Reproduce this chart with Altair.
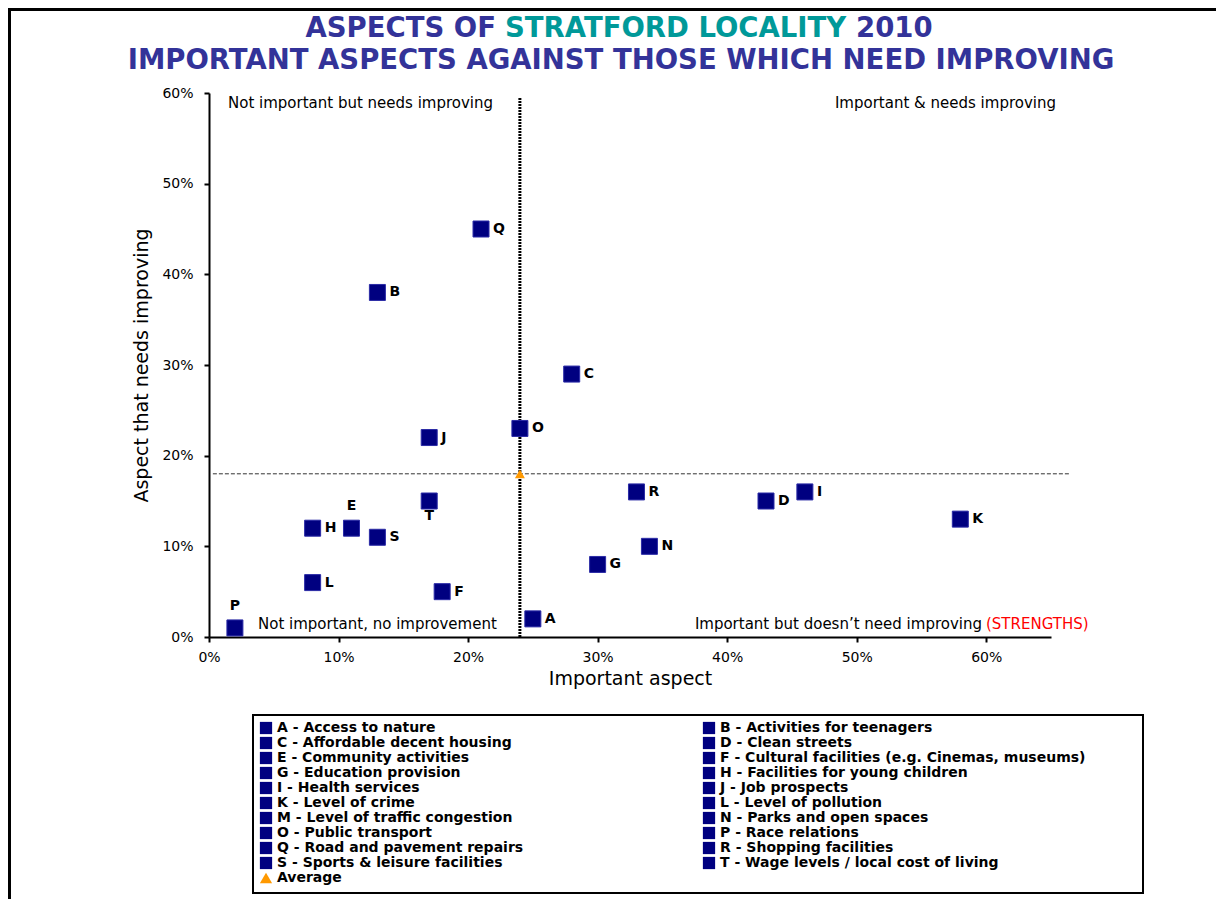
import altair as alt
import pandas as pd

# ---------------- data ----------------
legend_letters = ["A", "B", "C", "D", "E", "F", "G", "H", "I", "J",
                  "K", "L", "M", "N", "O", "P", "Q", "R", "S", "T"]
legend_names = [
    "Access to nature", "Activities for teenagers", "Affordable decent housing",
    "Clean streets", "Community activities",
    "Cultural facilities (e.g. Cinemas, museums)", "Education provision",
    "Facilities for young children", "Health services", "Job prospects",
    "Level of crime", "Level of pollution", "Level of traffic congestion",
    "Parks and open spaces", "Public transport", "Race relations",
    "Road and pavement repairs", "Shopping facilities",
    "Sports & leisure facilities", "Wage levels / local cost of living",
]

point_letters = ["A", "B", "C", "D", "E", "F", "G", "H", "I", "J",
                 "K", "L", "N", "O", "P", "Q", "R", "S", "T"]
important = [0.25, 0.13, 0.28, 0.43, 0.11, 0.18, 0.30, 0.08, 0.46, 0.17,
             0.58, 0.08, 0.34, 0.24, 0.02, 0.21, 0.33, 0.13, 0.17]
needs_improving = [0.02, 0.38, 0.29, 0.15, 0.12, 0.05, 0.08, 0.12, 0.16, 0.22,
                   0.13, 0.06, 0.10, 0.23, 0.01, 0.45, 0.16, 0.11, 0.15]

average_important = [0.24]
average_needs = [0.18]
avg_vline_y = [0.0, 0.595]
avg_hline_x = [0.003, 0.665]

labels_above = ["E", "P"]
labels_below = ["T"]

x_ticks = [0, 0.1, 0.2, 0.3, 0.4, 0.5, 0.6]
y_ticks = [0, 0.1, 0.2, 0.3, 0.4, 0.5, 0.6]

# ---------------- tables ----------------
entry_labels = [f"{l} - {n}" for l, n in zip(legend_letters, legend_names)]
name_of = dict(zip(legend_letters, entry_labels))
pts = pd.DataFrame({
    "letter": point_letters,
    "imp": important,
    "need": needs_improving,
    "entry": [name_of[l] for l in point_letters],
})
avg = pd.DataFrame({"imp": average_important, "need": average_needs,
                    "entry": ["Average"]})
vline = pd.DataFrame({"imp": average_important * 2, "need": avg_vline_y})
hline = pd.DataFrame({"imp": avg_hline_x, "need": average_needs * 2})
one = pd.DataFrame({"a": [0]})

NAVY = "#000080"
ORANGE = "#FF9900"
TITLE_BLUE = "#333399"
TEAL = "#009999"
FONT = "DejaVu Sans"

# legend lays out column by column: odd entries + Average left, even entries right
all_entries = entry_labels + ["Average"]
domain = all_entries[0::2] + all_entries[1::2]
domain = [e for e in domain if e != "Average"]
domain = domain[:10] + ["Average"] + domain[10:]
color_scale = alt.Scale(domain=domain,
                        range=[ORANGE if d == "Average" else NAVY for d in domain])
shape_scale = alt.Scale(domain=domain,
                        range=["triangle-up" if d == "Average" else "square" for d in domain])

xs = alt.X("imp:Q", title="Important aspect",
           scale=alt.Scale(domain=[0, 0.65], nice=False, zero=True),
           axis=alt.Axis(format=".0%", values=x_ticks, grid=False, labelFlush=False))
ys = alt.Y("need:Q", title="Aspect that needs improving",
           scale=alt.Scale(domain=[0, 0.6], nice=False),
           axis=alt.Axis(format=".0%", values=y_ticks, grid=False, labelFlush=False))

legend = alt.Legend(orient="none", legendX=44, legendY=622, columns=2,
                    gridAlign="all", columnPadding=59, title=None,
                    labelFont=FONT, labelFontWeight="bold", labelFontSize=14,
                    labelColor="black", labelLimit=700, labelOffset=4,
                    symbolSize=150, symbolStrokeWidth=0,
                    padding=6, rowPadding=1)

points = alt.Chart(pts).mark_point(filled=True, size=256, opacity=1,
                                   stroke="#2b2ba6", strokeWidth=1).encode(
    x=xs, y=ys,
    color=alt.Color("entry:N", scale=color_scale, legend=legend),
    shape=alt.Shape("entry:N", scale=shape_scale, legend=legend),
)
avg_pt = alt.Chart(avg).mark_point(filled=True, size=100, opacity=1).encode(
    x="imp:Q", y="need:Q",
    color=alt.Color("entry:N", scale=color_scale, legend=legend),
    shape=alt.Shape("entry:N", scale=shape_scale, legend=legend),
)

vrule = alt.Chart(vline).mark_line(color="black", strokeWidth=3,
                                   strokeDash=[2, 1]).encode(x="imp:Q", y="need:Q")
hrule = alt.Chart(hline).mark_line(color="#333333", strokeWidth=1,
                                   strokeDash=[4, 2]).encode(x="imp:Q", y="need:Q")

lbl_style = dict(font=FONT, fontWeight="bold", fontSize=14, color="black")
right_lbl = alt.Chart(pts).transform_filter(
    ~alt.FieldOneOfPredicate(field="letter", oneOf=labels_above + labels_below)
).mark_text(align="left", baseline="middle", dx=12, **lbl_style).encode(
    x="imp:Q", y="need:Q", text="letter:N")
above_lbl = alt.Chart(pts).transform_filter(
    alt.FieldOneOfPredicate(field="letter", oneOf=labels_above)
).mark_text(align="center", baseline="middle", dy=-22, **lbl_style).encode(
    x="imp:Q", y="need:Q", text="letter:N")
below_lbl = alt.Chart(pts).transform_filter(
    alt.FieldOneOfPredicate(field="letter", oneOf=labels_below)
).mark_text(align="center", baseline="middle", dy=15, **lbl_style).encode(
    x="imp:Q", y="need:Q", text="letter:N")


def note(text, x, y, align="left", color="black", size=15, weight="normal"):
    return alt.Chart(one).mark_text(
        text=text, align=align, baseline="middle", font=FONT, fontSize=size,
        fontWeight=weight, color=color).encode(x=alt.value(x), y=alt.value(y))


def title_piece(text, x, y, align, color):
    return alt.Chart(one).mark_text(
        text=text, align=align, baseline="alphabetic", font=FONT, fontSize=27.5,
        fontWeight="bold", color=color).encode(x=alt.value(x), y=alt.value(y))


quad = [
    note("Not important but needs improving", 19, 10),
    note("Important & needs improving", 847, 10, align="right"),
    note("Not important, no improvement", 49, 531),
    note("Important but doesn\u2019t need improving", 773, 531, align="right"),
    note("(STRENGTHS)", 777, 531, color="#FF0000"),
]

titles = [
    title_piece("ASPECTS OF", 287, -56, "right", TITLE_BLUE),
    title_piece("STRATFORD LOCALITY", 296, -56, "left", TEAL),
    title_piece("2010", 647, -56, "left", TITLE_BLUE),
    title_piece("IMPORTANT ASPECTS AGAINST THOSE WHICH NEED IMPROVING", 412, -24,
                "center", TITLE_BLUE),
]

frame = [
    alt.Chart(one).mark_rule(color="black", strokeWidth=3).encode(
        x=alt.value(-199.5), y=alt.value(-90), y2=alt.value(900)),
    alt.Chart(one).mark_rule(color="black", strokeWidth=3).encode(
        y=alt.value(-83.5), x=alt.value(-205), x2=alt.value(1100)),
    # legend box
    alt.Chart(one).mark_rect(fill=None, stroke="black", strokeWidth=2).encode(
        x=alt.value(44), x2=alt.value(934), y=alt.value(622), y2=alt.value(800)),
]

chart = alt.layer(
    hrule, vrule, points, avg_pt, right_lbl, above_lbl, below_lbl,
    *quad, *titles, *frame
).resolve_scale(color="shared", shape="shared").properties(
    width=842, height=544,
    autosize=alt.AutoSizeParams(type="none"),
    padding={"left": 201, "top": 85, "right": 165, "bottom": 262},
).configure_view(stroke=None).configure_axis(
    domainColor="black", domainWidth=2, tickColor="black", tickWidth=2,
    tickSize=5, labelFont=FONT, labelFontSize=14, labelColor="black",
    titleFont=FONT, titleFontSize=19, titleFontWeight="normal",
    titleColor="black", labelPadding=8,
).configure_axisX(titlePadding=5).configure_axisY(
    titlePadding=10, labelPadding=11
)

chart.save("out.html", embed_options={"renderer": "svg", "actions": False})
